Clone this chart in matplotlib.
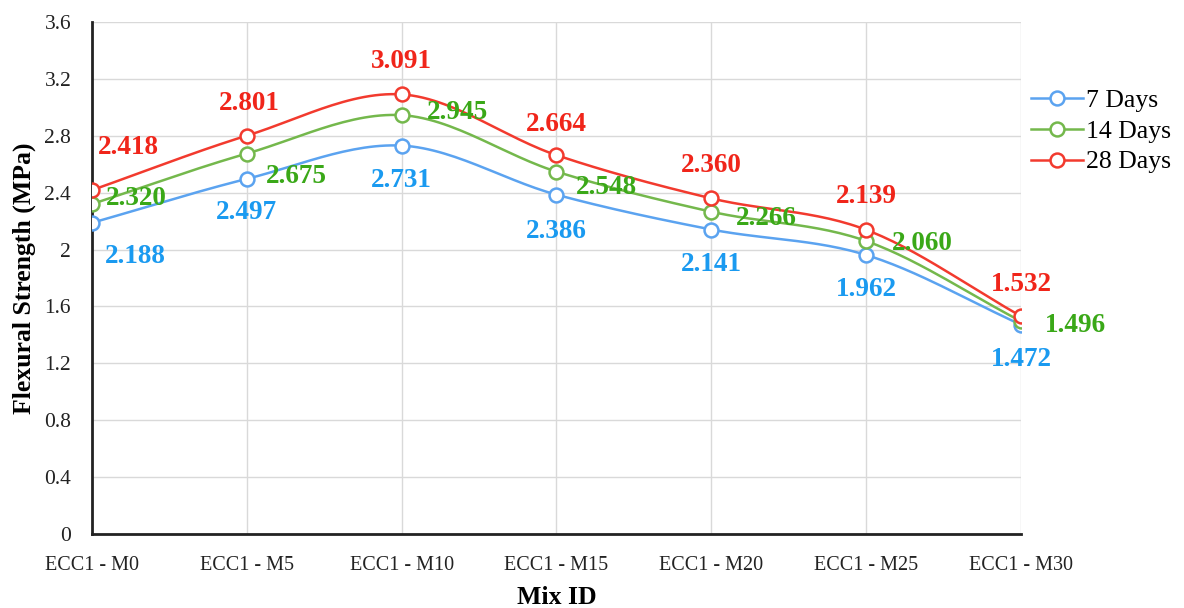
import numpy as np
import matplotlib.pyplot as plt

# data
mixes = ['ECC1 - M0', 'ECC1 - M5', 'ECC1 - M10', 'ECC1 - M15', 'ECC1 - M20', 'ECC1 - M25', 'ECC1 - M30']
days_7 = [2.188, 2.497, 2.731, 2.386, 2.141, 1.962, 1.472]
days_14 = [2.320, 2.675, 2.945, 2.548, 2.266, 2.060, 1.496]
days_28 = [2.418, 2.801, 3.091, 2.664, 2.360, 2.139, 1.532]
series_names = ['7 Days', '14 Days', '28 Days']
yticks = [0, 0.4, 0.8, 1.2, 1.6, 2, 2.4, 2.8, 3.2, 3.6]

plt.rcParams['font.family'] = ['Liberation Serif', 'DejaVu Serif']

line_colors = ['#5ba3f0', '#74b84c', '#f23a2e']
label_colors = ['#1a9af0', '#3aa818', '#f0251a']

# label offsets in pixels (dx, dy) for each series / point
offs_7 = [(43, -34), (0, -34), (0, -35), (0, -37), (0, -35), (0, -35), (0, -35)]
offs_14 = [(44, 6), (50, -23), (56, 3), (50, -16), (55, -7), (56, -2), (54, -4)]
offs_28 = [(36, 43), (2, 32), (0, 33), (0, 31), (0, 33), (0, 33), (0, 32)]


def smooth(x, y, n=30):
    # catmull-rom style smoothing, like excel smoothed lines
    x = np.asarray(x, float)
    y = np.asarray(y, float)
    px = np.concatenate([[2 * x[0] - x[1]], x, [2 * x[-1] - x[-2]]])
    py = np.concatenate([[2 * y[0] - y[1]], y, [2 * y[-1] - y[-2]]])
    xs, ys = [], []
    t = np.linspace(0, 1, n)
    for i in range(1, len(px) - 2):
        for p, out in ((px, xs), (py, ys)):
            p0, p1, p2, p3 = p[i - 1], p[i], p[i + 1], p[i + 2]
            out.extend(0.5 * (2 * p1 + (-p0 + p2) * t + (2 * p0 - 5 * p1 + 4 * p2 - p3) * t ** 2
                              + (-p0 + 3 * p1 - 3 * p2 + p3) * t ** 3))
    return np.array(xs), np.array(ys)


fig = plt.figure(figsize=(11.84, 6.08), dpi=100)
ax = fig.add_axes([0.0777, 0.1217, 0.7846, 0.8421])

x = np.arange(len(mixes))
all_series = [days_7, days_14, days_28]
all_offs = [offs_7, offs_14, offs_28]
for vals, name, lc, tc, offs in zip(all_series, series_names, line_colors, label_colors, all_offs):
    sx, sy = smooth(x, vals)
    ax.plot(sx, sy, color=lc, lw=1.8, zorder=3)
    ax.plot(x, vals, 'o', color=lc, mfc='white', mec=lc, ms=10, mew=1.8, zorder=4)
    ax.plot([], [], '-o', color=lc, mfc='white', mec=lc, ms=10, mew=1.8, lw=1.8, label=name)
    for xi, v, (dx, dy) in zip(x, vals, offs):
        ax.annotate(f'{v:.3f}', (xi, v), xytext=(dx, dy), textcoords='offset pixels',
                    ha='center', va='center', fontsize=19.5, fontweight='bold', color=tc, zorder=5)

ax.set_xlim(0, 6)
ax.set_ylim(0, 3.6)
ax.set_yticks(yticks)
ax.set_yticklabels([f'{t:g}' for t in yticks])
ax.set_xticks(x)
ax.set_xticklabels(mixes)
ax.tick_params(axis='both', length=0, colors='#222222')
ax.tick_params(axis='x', pad=16, labelsize=14.5)
ax.tick_params(axis='y', pad=15, labelsize=15.5)
ax.grid(True, color='#d9d9d9', lw=1)
ax.set_axisbelow(True)
for s in ['top', 'right']:
    ax.spines[s].set_visible(False)
for s in ['left', 'bottom']:
    ax.spines[s].set_linewidth(2)
    ax.spines[s].set_color('#222222')

ax.set_xlabel('Mix ID', fontsize=18.5, fontweight='bold', labelpad=8)
ax.set_ylabel('Flexural Strength (MPa)', fontsize=18.5, fontweight='bold', labelpad=6)

ax.legend(loc='upper left', bbox_to_anchor=(1.0, 0.889), frameon=False, fontsize=18.5,
          handlelength=2.0, handletextpad=0.15, labelspacing=0.3, borderaxespad=0)

fig.savefig('out.png', dpi=100)
